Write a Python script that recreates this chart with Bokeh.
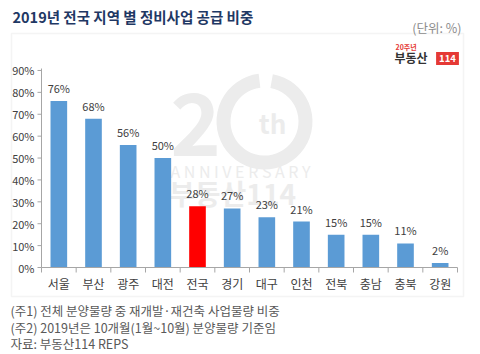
from bokeh.plotting import figure
from bokeh.models import ColumnDataSource, Range1d, LabelSet, Label, BoxAnnotation
from bokeh.core.properties import value
from bokeh.embed import file_html
from bokeh.resources import INLINE
import math

regions = ["서울", "부산", "광주", "대전", "전국", "경기", "대구", "인천", "전북", "충남", "충북", "강원"]
shares = [76, 68, 56, 50, 28, 27, 23, 21, 15, 15, 11, 2]
highlight = "전국"
y_ticks = [0, 10, 20, 30, 40, 50, 60, 70, 80, 90]
y_tick_labels = ["0%", "10%", "20%", "30%", "40%", "50%", "60%", "70%", "80%", "90%"]
title_text = "2019년 전국 지역 별 정비사업 공급 비중"
unit_text = "(단위: %)"
notes = [
    "(주1) 전체 분양물량 중 재개발·재건축 사업물량 비중",
    "(주2) 2019년은 10개월(1월~10월) 분양물량 기준임",
    "자료: 부동산114 REPS",
]

FONT = "Noto Sans CJK KR"
W, H = 480, 354
# chart area in canvas pixels (layout)
PL, PR, PT, PB = 41, 457, 68, 267
Y_TOP = 90.9

n = len(regions)
ux = (PR - PL) / n
uy = (PB - PT) / Y_TOP
x_start = 0.5 - PL / ux
x_end = 0.5 + (W - PL) / ux
y_start = -(H - PB) / uy
y_end = PB / uy


def dx(px):
    return x_start + px / ux


def dy(py):
    return y_end - py / uy


pos = list(range(1, n + 1))
colors = ["#ff0000" if r == highlight else "#5b9bd5" for r in regions]
src = ColumnDataSource(dict(x=pos, share=shares, color=colors, region=regions,
                            label=[f"{v}%" for v in shares], base=[0] * n))

p = figure(width=W, height=H, output_backend="svg", toolbar_location=None,
           x_range=Range1d(x_start, x_end), y_range=Range1d(y_start, y_end),
           x_axis_location=None, y_axis_location=None,
           min_border=0, min_border_left=0, min_border_right=0, min_border_top=0, min_border_bottom=0)
p.outline_line_color = None
p.xgrid.grid_line_color = None
p.ygrid.grid_line_color = None
p.background_fill_color = "white"
p.border_fill_color = "white"


def canvas_label(x, y, text, **kw):
    p.add_layout(Label(x=x, y=H - y, x_units="screen", y_units="screen", text=text, **kw))


# box border
p.add_layout(BoxAnnotation(left=11, right=463, top=H - 33, bottom=H - 296,
                           left_units="screen", right_units="screen",
                           top_units="screen", bottom_units="screen",
                           fill_color=None, line_color="#d9d9d9", line_width=1.5, level="underlay"))

# watermark (decoration)
wm = "#ececec"
canvas_label(195, 123, "2", text_font=FONT, text_font_size="86px", text_font_style="bold",
             text_color=wm, text_align="center", text_baseline="middle", level="underlay")
p.annular_wedge(x=[dx(264)], y=[dy(121)], inner_radius=34, outer_radius=48,
                inner_radius_units="screen", outer_radius_units="screen",
                start_angle=math.radians(97), end_angle=math.radians(80 + 360),
                color=wm, line_color=None, level="underlay")
canvas_label(272, 122, "th", text_font=FONT, text_font_size="26px", text_font_style="bold",
             text_color=wm, text_align="center", text_baseline="middle", level="underlay")
canvas_label(240, 170, "A N N I V E R S A R Y", text_font=FONT, text_font_size="16px",
             text_color=wm, text_align="center", text_baseline="middle", level="underlay")
canvas_label(232, 192, "부동산114", text_font=FONT, text_font_size="28px", text_font_style="bold",
             text_color=wm, text_align="center", text_baseline="middle", level="underlay")

# bars
p.vbar(x="x", top="share", width=0.48, color="color", line_color=None, source=src)

# value labels
p.add_layout(LabelSet(x="x", y="share", text="label", source=src, y_offset=5,
                      text_align="center", text_baseline="bottom", text_font=value(FONT),
                      text_font_size="11px", text_color="#404040"))

axis_color = "#a6a6a6"
lab_color = "#404040"

# y axis
p.segment(x0=[0.5], y0=[0], x1=[0.5], y1=[Y_TOP], line_color=axis_color, line_width=1)
p.segment(x0=[0.5 - 4 / ux] * len(y_ticks), y0=y_ticks, x1=[0.5] * len(y_ticks), y1=y_ticks,
          line_color=axis_color, line_width=1)
ysrc = ColumnDataSource(dict(x=[0.5] * len(y_ticks), y=y_ticks, t=y_tick_labels))
p.add_layout(LabelSet(x="x", y="y", text="t", source=ysrc, x_offset=-7,
                      text_align="right", text_baseline="middle", text_font=value(FONT),
                      text_font_size="11px", text_color=lab_color))

# x axis
p.segment(x0=[0.5], y0=[0], x1=[n + 0.5], y1=[0], line_color=axis_color, line_width=1)
bounds = [i + 0.5 for i in range(0, n + 1)]
p.segment(x0=bounds, y0=[0] * len(bounds), x1=bounds, y1=[-5 / uy] * len(bounds),
          line_color=axis_color, line_width=1)
p.add_layout(LabelSet(x="x", y="base", text="region", source=src, y_offset=-7,
                      text_align="center", text_baseline="top", text_font=value(FONT),
                      text_font_size="12px", text_color=lab_color))

# title and unit
canvas_label(12, 16, title_text, text_font=FONT, text_font_size="14.5px", text_font_style="bold",
             text_color="#1f3864", text_baseline="middle")
canvas_label(461, 27, unit_text, text_font=FONT, text_font_size="12.5px", text_color="#8c8c8c",
             text_align="right", text_baseline="middle")

# logo
canvas_label(395, 46, "20주년", text_font=FONT, text_font_size="7px", text_font_style="bold",
             text_color="#e53935", text_baseline="middle")
canvas_label(394, 57, "부동산", text_font=FONT, text_font_size="12px", text_font_style="bold",
             text_color="#333333", text_baseline="middle")
canvas_label(447, 58, "114", text_font=FONT, text_font_size="9.5px", text_font_style="bold",
             text_color="white", text_align="center", text_baseline="middle",
             background_fill_color="#e53935", padding=3)

# footnotes
for i, t in enumerate(notes):
    canvas_label(10, 310 + 16.5 * i, t, text_font=FONT, text_font_size="12.5px",
                 text_color="#595959", text_baseline="middle")

open("out.html", "w").write(file_html(p, INLINE))
